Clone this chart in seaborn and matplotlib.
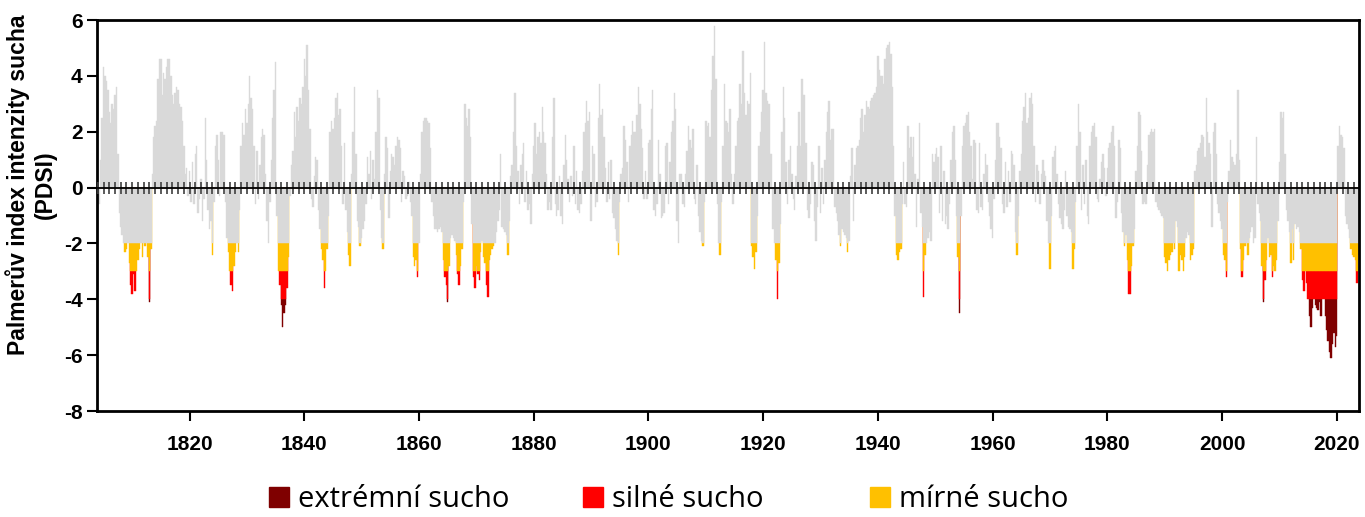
import numpy as np
import pandas as pd
import matplotlib
matplotlib.use("Agg")
import matplotlib.pyplot as plt
from matplotlib.lines import Line2D
import seaborn as sns

# quarterly PDSI values, one row per year
start_year = 1804
pdsi_1804 = [
    0.4, -0.6, 1.0, 2.5,   4.3, 4.0, 3.8, 3.5,   2.7, 2.3, 3.0, 2.8,   3.3, 3.6, 1.2, -0.9,
    -1.4, -1.7, -2.0, -2.3,   -2.2, -2.0, -2.7, -3.5,   -3.8, -3.1, -3.7, -3.0,   -2.6, -2.2, -2.0, -2.5,
    -2.0, -2.1, -2.0, -2.5,   -4.1, -2.2, 0.5, 1.8,   2.2, 2.4, 3.9, 4.6,   4.6, 3.3, 4.1, 3.9,
    4.3, 4.6, 4.6, 4.0,   3.3, 3.0, 3.4, 3.6,   3.5, 3.0, 2.9, 2.4,   1.5, 0.5, 0.7, -0.3,
    0.6, -0.5, 0.9, -0.6,   1.2, 1.5, -0.9, -0.4,   0.3, -1.2, -0.4, 2.5,
]
pdsi_1823 = [
    1.0, -0.8, -1.5, -1.2,   -2.4, -0.5, 1.5, 1.9,   1.0, -0.3, 2.0, 2.0,   1.9, -0.5, -1.8, -2.3,
    -3.0, -3.5, -3.7, -2.8,   -2.3, -2.0, -2.3, -0.8,   1.5, 2.3, 1.9, 2.8,   2.3, 3.0, 4.0, 3.2,
    2.8, 1.5, -0.6, 1.3,   -0.4, 0.8, 1.8, 2.1,   1.9, 0.5, -1.2, -2.0,   -0.5, 1.0, 2.5, 3.5,
    4.5, -1.0, -3.0, -3.5,   -4.2, -5.0, -4.5, -4.2,   -3.6, -2.5, -0.3, 0.8,   1.3, 2.7, 1.8, 2.9,
    2.4, 3.2, 3.0, 3.6,   4.6, 4.0, 5.1, 3.5,   2.1, -0.4, -0.7, 0.4,   1.1, 1.0, -0.8, -1.5,
]
pdsi_1843 = [
    -2.2, -2.6, -3.6, -3.0,   -2.2, -1.0, 2.0, 2.4,   2.1, 2.5, 3.2, 3.4,   2.6, 2.8, 1.5, -0.6,
    1.6, -0.8, -1.6, -2.4,   -2.8, 0.5, 2.0, 3.6,   1.2, -1.2, -1.4, -2.1,   -1.8, -1.5, -1.2, -0.6,
    1.1, 0.5, 1.3, -0.4,   1.0, 0.3, 2.0, 3.5,   3.2, -0.8, -1.8, -2.2,   0.5, 1.8, 1.4, -1.1,
    0.6, 1.2, 1.1, 0.8,   1.5, 1.8, 1.7, 1.4,   -0.5, 0.6, 0.4, -0.4,   -0.3, 0.2, -0.5, -1.0,
    -2.5, -2.8, -2.6, -3.2,   -2.0, 0.5, 2.0, 2.4,   2.5, 2.5, 2.4, 2.3,   1.4, -0.5, -1.0, -1.5,
]
pdsi_1863 = [
    -1.5, -1.6, -1.5, -1.4,   -1.6, -2.6, -3.2, -3.5,   -4.1, -2.8, -1.8, -1.7,   -1.8, -1.9, -2.4, -3.1,
    -3.5, -2.8, -2.2, -0.5,   3.0, 2.5, 2.2, 2.8,   1.8, -1.3, -3.2, -3.6,   -2.8, -3.1, -3.3, -2.3,
    -1.9, -2.5, -2.7, -3.5,   -3.9, -2.6, -2.4, -2.2,   -2.1, -2.0, -1.6, -1.2,   -0.8, 1.2, -1.4, -1.5,
    -1.6, -1.7, -2.4, -1.2,   0.4, 0.8, 2.0, 3.4,   1.5, 0.6, -0.6, 0.8,   1.2, 1.6, -0.5, 0.6,
    -0.8, -0.6, -1.3, 0.5,   1.5, 2.3, 1.2, 1.8,   2.0, 1.6, 2.9, 2.0,   1.6, 0.5, -0.8, -0.5,
]
pdsi_1883 = [
    -0.8, 1.8, 3.2, -0.6,   -1.0, -0.8, 0.4, -1.0,   -1.3, 0.8, 1.9, 1.0,   0.3, -0.5, 0.4, -0.3,
    1.5, -0.6, 0.6, -0.8,   -0.9, -0.6, 0.6, 2.0,   2.3, 3.1, 2.4, 2.7,   -1.2, 1.5, 1.2, -0.7,
    -0.5, 2.5, 3.7, 2.6,   2.8, 1.8, 0.7, -0.5,   0.9, -0.4, 1.0, -0.9,   -1.1, -1.5, -1.9, -2.4,
    -0.5, 0.5, 0.7, 2.2,   1.7, 0.9, -0.5, 1.5,   1.9, 2.4, 2.0, 2.0,   2.6, 3.6, 3.0, 2.1,
    1.4, -0.4, 0.6, -0.4,   1.6, 1.7, 2.8, 3.5,   -0.8, -1.0, -0.6, 1.7,   0.5, -1.1, -1.0, -0.9,
]
pdsi_1903 = [
    1.5, 1.6, -0.6, 0.9,   2.0, 2.4, 3.4, 2.8,   -1.2, -2.0, 0.5, 0.5,   -0.6, -0.7, 0.5, 1.3,
    2.2, 1.7, 1.4, 2.1,   -0.4, -0.6, 0.8, -1.0,   -1.6, -1.9, -2.1, -0.5,   2.4, 2.2, 2.3, 1.8,
    3.5, 4.7, 5.8, 3.9,   -0.6, -2.0, -2.4, -0.5,   1.5, 3.7, 2.4, 2.3,   2.0, 2.8, 0.5, -0.6,
    0.5, 1.5, 2.4, 2.5,   3.7, 3.0, 4.9, 3.4,   2.6, 3.1, 3.0, 4.1,   -2.1, -2.5, -2.9, -2.3,
    -1.0, 1.5, 2.0, 2.7,   3.5, 5.2, 3.4, 3.1,   3.0, 1.2, 1.2, -1.5,   -2.0, -2.6, -4.0, -2.7,
]
pdsi_1923 = [
    -1.3, 2.0, 3.6, 2.5,   0.9, -0.6, 1.0, 1.5,   0.5, -0.4, -0.8, 0.4,   1.5, 2.7, 1.5, 3.9,
    3.3, 3.3, 1.6, -0.8,   -1.1, -0.6, 0.9, 0.8,   -1.2, -1.9, -0.7, 1.5,   -0.9, 0.7, -0.6, 1.0,
    2.0, 2.7, 3.1, 1.7,   2.1, 2.1, -0.7, -0.9,   -1.2, -1.7, -2.1, -1.5,   -1.6, -1.7, -1.8, -2.3,
    -1.9, 0.4, 1.4, -1.2,   0.8, 1.4, 1.5, 1.7,   2.5, 2.8, 2.0, 2.6,   3.1, 2.9, 2.8, 3.1,
    3.2, 3.3, 3.4, 3.6,   4.7, 4.2, 4.0, 4.0,   3.7, 4.6, 5.0, 5.1,   5.2, 4.8, 3.6, 1.5,
    -1.0, -2.4, -2.6, -2.3,
]
pdsi_1944 = [
    -2.2, -0.6, 0.9, -0.6,   -0.7, 2.2, 1.4, 1.8,   1.1, 1.8, 0.5, -1.4,   0.3, 2.3, -0.9, -1.4,
    -3.9, -2.4, -2.0, -1.8,   -1.6, -1.9, 1.2, 0.9,   1.2, 1.4, 1.1, -0.9,   1.5, -1.2, 0.6, -1.3,
    -1.0, -1.5, -0.6, 1.0,   2.0, 2.2, 1.0, -1.0,   -2.5, -4.5, -1.0, 1.5,   2.2, 2.3, 2.6, 2.7,
    2.0, 1.5, 0.3, 1.7,   1.6, -0.8, -0.9, 1.6,   -0.7, -0.8, 0.5, 1.2,   0.8, -0.5, -1.0, -1.5,
    -1.8, -0.4, 1.0, 2.3,   2.3, 1.8, 1.4, -0.6,   -0.9, 0.9, -0.7, 0.6,   -0.5, 1.3, 1.2, 0.8,
]
pdsi_1964 = [
    -1.6, -2.4, -1.0, 0.6,   1.2, 2.4, 2.9, 3.4,   2.3, 2.5, 3.2, 3.4,   3.0, 1.5, -0.5, 0.8,
    0.6, -0.6, 0.5, 1.0,   0.6, 0.4, -1.2, -2.0,   -2.9, -1.0, 1.1, 1.3,   1.5, 0.5, -0.6, -1.1,
    -1.3, -1.5, -0.8, 0.6,   -1.0, -1.4, -1.5, -1.6,   -2.9, -2.2, -0.5, 1.5,   3.0, 2.0, -0.8, 0.8,
    -0.6, 1.0, -1.0, -1.3,   1.5, 2.0, 2.2, 2.3,   1.8, -0.4, -0.5, 0.3,   0.9, 1.2, 0.7, -0.3,
    0.7, 1.4, 1.6, 2.0,   2.2, 1.5, -1.1, -0.5,   1.7, 1.4, -0.9, -1.6,   -2.1, -1.7, -2.6, -3.8,
]
pdsi_1984 = [
    -3.8, -2.8, -2.1, -1.5,   0.6, 1.5, 2.7, 2.6,   1.3, -0.6, -0.5, -0.6,   0.8, 1.9, 2.0, 2.1,
    2.0, 2.1, -0.5, -0.7,   -0.8, -0.9, -1.0, -1.1,   -2.5, -2.7, -3.0, -2.6,   -2.4, -2.3, -2.0, -2.2,
    -1.2, -1.4, -3.0, -2.4,   -2.6, -3.0, -2.5, -1.8,   -1.6, -1.7, -2.6, -2.4,   -2.2, 0.6, 0.8, 1.3,
    1.4, 1.6, 1.9, 1.8,   1.1, 3.2, 2.0, 1.6,   1.2, -1.4, 2.0, 2.3,   1.2, -0.6, -0.9, -1.2,
    -1.5, -2.4, -2.6, -3.2,   -0.5, 0.6, 1.7, 1.1,   0.9, 0.8, 1.2, 3.5,   1.0, -2.2, -3.2, -2.6,
]
pdsi_2004 = [
    -2.1, -2.0, -2.4, -1.8,   -1.6, -1.4, -2.0, -1.8,   1.8, -0.6, -0.9, -1.2,   -2.8, -4.1, -3.3, -2.6,
    -1.8, -2.5, -2.4, -3.2,   -2.8, -3.0, -2.6, -1.2,   0.9, 2.7, 2.5, 2.7,   1.2, -0.8, -1.2, -1.6,
    -2.7, -1.5, -2.6, -1.3,   -1.5, -1.4, -1.6, -2.2,   -3.3, -3.7, -3.0, -3.4,   -4.0, -4.6, -5.0, -4.3,
    -4.0, -4.2, -4.3, -4.4,   -4.1, -4.6, -4.0, -4.0,   -4.6, -5.1, -5.5, -5.9,   -6.1, -5.6, -5.2, -5.7,
    -5.3, 1.5, 2.2, 1.9,   1.8, 1.4, -1.0, -1.3,   -1.5, -1.8, -2.2, -2.4,   -2.5, -2.6, -3.4, -2.4,
]

layer_labels = ["extrémní sucho", "silné sucho", "mírné sucho"]
layer_colors = ["#7f0000", "#ff0000", "#ffc000"]
grey = "#d9d9d9"

pdsi = np.array(pdsi_1804 + pdsi_1823 + pdsi_1843 + pdsi_1863 + pdsi_1883 + pdsi_1903
                + pdsi_1923 + pdsi_1944 + pdsi_1964 + pdsi_1984 + pdsi_2004)
t = start_year + np.arange(len(pdsi)) / 4

df = pd.DataFrame({"t": t, "pdsi": pdsi})
df["extremni"] = df["pdsi"].where(df["pdsi"] < -4, 0)
df["silne"] = df["pdsi"].where(df["pdsi"] < -3, 0).clip(lower=-4)
df["mirne"] = df["pdsi"].where(df["pdsi"] < -2, 0).clip(lower=-3)
df["normal"] = df["pdsi"].clip(lower=-2)

sns.set_style("ticks")
plt.rcParams["axes.unicode_minus"] = False
plt.rcParams["text.color"] = "black"
plt.rcParams["font.family"] = ["Liberation Sans", "DejaVu Sans"]

fig = plt.figure(figsize=(13.65, 5.17), dpi=100)
ax = fig.add_axes([0.0711, 0.205, 0.9245, 0.7563])

# each layer drawn from 0, the upper ones hide the lower parts
for col, color in zip(["extremni", "silne", "mirne", "normal"], layer_colors + [grey]):
    sns.barplot(data=df, x="t", y=col, native_scale=True, orient="x", color=color,
                saturation=1, width=1, errorbar=None, linewidth=0.3, edgecolor=color, ax=ax)

ax.set_xlim(t[0] - 0.125, t[-1] + 0.125)
ax.set_ylim(-8, 6)
ax.set_xticks(range(1820, 2021, 20))
ax.set_yticks(range(-8, 7, 2))
ax.set_xlabel("")
ax.set_ylabel("")
ax.tick_params(axis="both", direction="out", length=7, width=1.5, labelsize=15, colors="black")
ax.tick_params(axis="x", pad=10)
for lab in ax.get_xticklabels() + ax.get_yticklabels():
    lab.set_fontweight("bold")
for s in ax.spines.values():
    s.set_linewidth(2)
    s.set_color("black")

# zero line with yearly ticks
ax2 = ax.twiny()
ax2.set_xlim(ax.get_xlim())
for side in ["top", "left", "right"]:
    ax2.spines[side].set_visible(False)
ax2.spines["bottom"].set_position(("data", 0))
ax2.spines["bottom"].set_linewidth(1.3)
ax2.spines["bottom"].set_color("black")
ax2.xaxis.set_ticks_position("bottom")
ax2.set_xticks(np.arange(start_year, 2024))
ax2.tick_params(axis="x", direction="inout", length=9, width=1.2, color="#404040",
                labelbottom=False, labeltop=False)

fig.text(0.0227, 0.642, "Palmerův index intenzity sucha\n(PDSI)", rotation=90,
         ha="center", va="center", fontsize=16.5, fontweight="bold", color="black",
         linespacing=1.25, multialignment="center")

legend_x = [0.185, 0.415, 0.6254]
for label, color, x in zip(layer_labels, layer_colors, legend_x):
    h = Line2D([], [], marker="s", linestyle="none", markersize=15,
               markerfacecolor=color, markeredgecolor=color)
    leg = fig.legend(handles=[h], labels=[label], loc="center left", bbox_to_anchor=(x, 0.033),
                     frameon=False, handlelength=1, handletextpad=0.15, borderaxespad=0,
                     prop={"family": ["Open Sans", "DejaVu Sans"], "size": 21})
    for txt in leg.get_texts():
        txt.set_color("black")

fig.savefig("out.png", dpi=100)
